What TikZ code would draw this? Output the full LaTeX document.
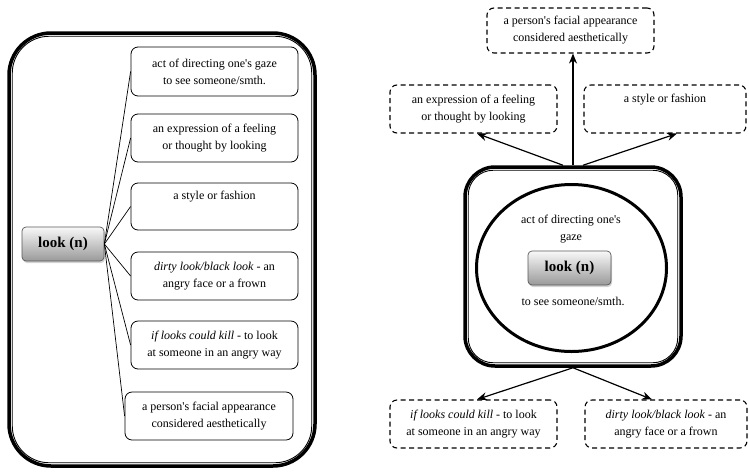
\documentclass[tikz,border=0pt]{standalone}
\usepackage{fontspec}
\setmainfont{LiberationSerif}[Extension=.ttf, UprightFont=*-Regular, BoldFont=*-Bold, ItalicFont=*-Italic, BoldItalicFont=*-BoldItalic, Ligatures=TeXOff]
\usetikzlibrary{arrows.meta,shadows,calc,shapes.geometric}
\begin{document}
\begin{tikzpicture}[x=1pt,y=-1pt,
  every node/.style={font=\fontsize{12}{17}\selectfont, align=center, inner sep=0pt},
  defbox/.style={draw, line width=0.8pt, rounded corners=7pt, minimum width=167pt, minimum height=48pt},
  dashbox/.style={draw, line width=1.1pt, dash pattern=on 5pt off 3.5pt, rounded corners=7pt, minimum width=167pt, minimum height=48pt},
  lookbox/.style={draw=gray!70!black, line width=0.7pt, rounded corners=4pt, top color=white!95!gray, bottom color=gray!80, minimum height=34pt, font=\fontsize{15}{17}\selectfont\bfseries, drop shadow={shadow xshift=1pt, shadow yshift=-2pt, opacity=0.35}},
  thickframe/.style={draw, line width=3.5pt},
  thinframe/.style={draw, line width=0.9pt},
  arr/.style={line width=1.2pt, -{Stealth[length=10pt,width=8pt]}},
  link/.style={line width=0.7pt}
]
\useasboundingbox (0,0) rectangle (749,472);

% ---------- left panel ----------
\node[thickframe, rounded corners=42pt, minimum width=306pt, minimum height=433pt] (lframe) at (162,249.5) {};
\draw[thinframe, rounded corners=37pt] ($(lframe.north west)+(5,5)$) rectangle ($(lframe.south east)+(-5,-5)$);

\node[lookbox, minimum width=82pt] (llook) at (63,244) {look (n)};

\node[defbox, minimum height=49pt] (l1) at (214.5,71.5) {act of directing one's gaze\\to see someone/smth.};
\node[defbox] (l2) at (214.5,138) {an expression of a feeling\\or thought by looking};
\node[defbox, minimum height=47pt] (l3) at (214.5,206.5) {a style or fashion\\\strut};
\node[defbox] (l4) at (214.5,276) {\textit{dirty look/black look} - an\\angry face or a frown};
\node[defbox] (l5) at (214.5,345) {\textit{if looks could kill} - to look\\at someone in an angry way};
\node[defbox, minimum width=168pt] (l6) at (209,416) {a person's facial appearance\\considered aesthetically};

\foreach \b in {l1,l2,l3,l4,l5,l6} \draw[link] (llook.east) -- (\b.west);

% ---------- right panel ----------
\node[thickframe, rounded corners=30pt, minimum width=216pt, minimum height=199pt] (sq) at (573,266.5) {};
\draw[thinframe, rounded corners=25pt] ($(sq.north west)+(5,5)$) rectangle ($(sq.south east)+(-5,-5)$);
\node[draw, ellipse, line width=3pt, minimum width=190pt, minimum height=167pt] (circ) at (571.5,268) {};

\node (ctop) at (571,229.5) {act of directing one's\\gaze};
\node[lookbox, minimum width=83pt] (rlook) at (569.5,268) {look (n)};
\node (cbot) at (573,301) {to see someone/smth.};

\node[dashbox, minimum height=45pt] (rtop) at (570.5,30.5) {a person's facial appearance\\considered aesthetically};
\node[dashbox] (rl) at (473.5,109) {an expression of a feeling\\or thought by looking};
\node[dashbox, minimum width=162pt] (rr) at (665,109) {a style or fashion\\\strut};
\node[dashbox] (bl) at (473.5,424) {\textit{if looks could kill} - to look\\at someone in an angry way};
\node[dashbox, minimum width=162pt] (br) at (666,424) {\textit{dirty look/black look} - an\\angry face or a frown};

\coordinate (sqn) at (sq.north);
\draw[arr] (sqn) -- (sqn |- rtop.south);
\draw[arr] ($(sq.north)+(-10,0)$) -- ($(rl.south)+(3.5,0)$);
\draw[arr] ($(sq.north)+(10,0)$) -- ($(rr.south)+(12,0)$);
\draw[arr] (sq.south) -- ($(bl.north)+(3.5,0)$);
\draw[arr] (sq.south) -- ($(br.north)+(-14,0)$);
\end{tikzpicture}
\end{document}
